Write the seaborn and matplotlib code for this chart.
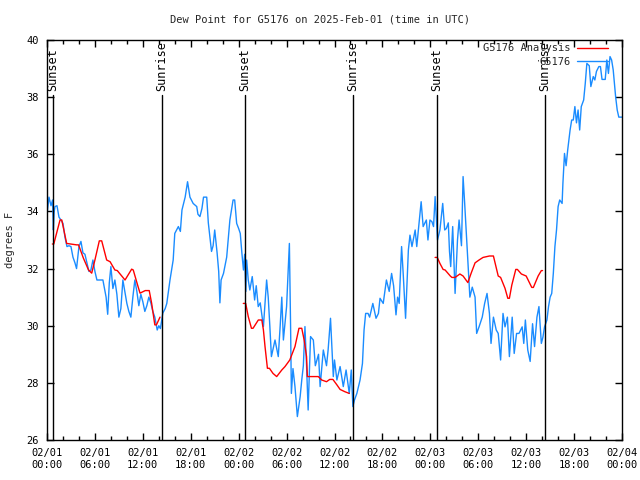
import matplotlib
matplotlib.use("Agg")
import matplotlib.pyplot as plt
import matplotlib.dates as mdates
from matplotlib.lines import Line2D
import numpy as np
import pandas as pd
import seaborn as sns

# hours after 2025-02-01 00:00 UTC
base_time = pd.Timestamp("2025-02-01 00:00")

obs_hours = [
    0.0, 0.25, 0.5, 0.7, 0.8, 0.9, 1.0, 1.25, 1.5, 1.75, 2.0, 2.25, 2.5, 2.75, 3.0, 3.25,
    3.5, 3.7, 4.0, 4.25, 4.5, 4.75, 5.0, 5.25, 5.5, 5.75, 6.0, 6.25, 6.5, 7.0, 7.4, 7.6,
    7.8, 8.0, 8.25, 8.5, 8.75, 9.0, 9.25, 9.5, 9.75, 10.0, 10.25, 10.5, 10.75, 11.0, 11.25,
    11.5, 11.75, 12.0, 12.25, 12.5, 12.75, 13.0, 13.25, 13.5, 13.8, 14.0, 14.2, 14.5, 14.8,
    15.0, 15.4, 15.8, 16.0, 16.45, 16.7, 16.9, 17.3, 17.6, 17.9, 18.3, 18.75, 18.9, 19.15,
    19.4, 19.6, 20.0, 20.2, 20.4, 20.6, 20.8, 21.0, 21.3, 21.5, 21.65, 21.8, 22.1, 22.5,
    22.9, 23.3, 23.5, 23.75, 24.0, 24.2, 24.4, 24.6, 24.75, 24.9, 25.0, 25.2, 25.4, 25.7,
    26.0, 26.2, 26.45, 26.7, 27.1, 27.5, 27.7, 27.9, 28.1, 28.55, 28.96, 29.2, 29.4, 29.6,
    30.0, 30.2, 30.35, 30.5, 30.6, 30.8, 31.05, 31.35, 31.7, 31.9, 32.1, 32.3, 32.5, 32.7,
    33.0, 33.35, 33.6, 34.0, 34.2, 34.6, 35.0, 35.2, 35.5, 35.85, 36.0, 36.3, 36.7, 37.1,
    37.45, 37.85, 38.1, 38.3, 38.5, 38.8, 39.2, 39.5, 39.7, 39.9, 40.2, 40.4, 40.8, 41.2,
    41.5, 41.7, 42.1, 42.5, 42.85, 43.15, 43.4, 43.7, 43.9, 44.1, 44.4, 44.6, 44.9, 45.25,
    45.45, 45.7, 46.1, 46.3, 46.5, 46.85, 47.1, 47.5, 47.7, 47.95, 48.2, 48.4, 48.6, 48.75,
    48.9, 49.2, 49.55, 49.8, 50.0, 50.25, 50.4, 50.55, 50.8, 51.1, 51.4, 51.6, 51.9, 52.1,
    52.3, 52.6, 52.95, 53.25, 53.6, 53.8, 54.1, 54.5, 54.8, 55.1, 55.4, 55.6, 55.9, 56.25,
    56.5, 56.8, 57.1, 57.35, 57.65, 57.9, 58.25, 58.5, 58.8, 59.1, 59.5, 59.7, 59.9, 60.2,
    60.5, 60.8, 61.05, 61.35, 61.6, 61.9, 62.1, 62.3, 62.6, 62.8, 63.0, 63.2, 63.4, 63.6,
    63.8, 64.0, 64.2, 64.5, 64.6, 64.8, 65.0, 65.2, 65.5, 65.7, 65.9, 66.1, 66.3, 66.5,
    66.7, 66.9, 67.2, 67.4, 67.6, 67.9, 68.1, 68.4, 68.6, 68.8, 69.1, 69.3, 69.5, 69.9,
    70.1, 70.3, 70.5, 70.7, 70.9, 71.2, 71.4, 71.6, 72.0,
]
obs_dewpt = [
    33.9, 34.5, 34.2, 34.4, 33.35, 34.0, 34.17, 34.2, 33.8, 33.7, 33.58, 33.1, 32.77, 32.8, 32.77, 32.4,
    32.2, 32.0, 32.77, 32.95, 32.55, 32.5, 32.2, 31.9, 31.95, 32.3, 31.9, 31.6, 31.6, 31.6, 31.0, 30.4,
    31.5, 32.07, 31.3, 31.6, 31.1, 30.3, 30.6, 31.6, 31.2, 30.78, 30.5, 30.3, 31.0, 31.6, 31.2,
    30.7, 31.1, 30.84, 30.5, 30.7, 31.0, 30.8, 30.5, 30.3, 29.85, 30.0, 29.9, 30.44, 30.6,
    30.78, 31.6, 32.3, 33.23, 33.47, 33.3, 34.05, 34.5, 35.04, 34.5, 34.28, 34.17, 33.9, 33.82,
    34.1, 34.5, 34.5, 33.6, 33.1, 32.6, 32.8, 33.35, 32.55, 31.9, 30.8, 31.6, 31.83, 32.4,
    33.7, 34.4, 34.4, 33.58, 33.4, 33.23, 32.55, 31.95, 32.5, 31.2, 32.3, 31.6, 31.25, 31.72,
    30.9, 31.4, 30.67, 30.8, 29.97, 31.6, 31.0, 30.0, 28.92, 29.5, 28.92, 30.0, 31.0, 29.5,
    30.67, 31.95, 32.88, 30.0, 27.63, 28.5, 27.87, 26.82, 27.52, 28.1, 28.6, 29.97, 28.6, 27.05,
    29.62, 29.5, 28.6, 29.0, 27.87, 29.15, 28.6, 29.15, 30.26, 28.22, 28.8, 28.1, 28.57, 27.87,
    28.45, 27.63, 28.45, 27.17, 27.4, 27.63, 28.1, 28.68, 29.85, 30.43, 30.43, 30.3, 30.78, 30.26,
    30.43, 30.96, 30.78, 31.6, 31.2, 31.83, 31.4, 30.38, 31.0, 30.78, 32.77, 31.83, 30.26, 32.65,
    33.17, 32.77, 33.35, 32.77, 33.35, 34.34, 33.47, 33.7, 33.0, 33.7, 33.64, 33.47, 34.52, 33.8,
    33.0, 33.35, 34.28, 33.35, 33.4, 33.6, 32.6, 32.07, 33.47, 31.13, 33.0, 33.7, 32.8, 35.22,
    34.28, 32.77, 31.0, 31.35, 31.0, 29.73, 29.96, 30.3, 30.78, 31.13, 30.43, 29.38, 30.3, 29.85,
    29.73, 28.8, 30.43, 29.96, 30.3, 28.92, 30.3, 29.03, 29.73, 29.73, 29.96, 29.38, 30.2, 29.15,
    28.75, 30.07, 29.27, 30.3, 30.67, 29.38, 29.6, 29.96, 30.2, 30.67, 31.0, 31.13, 31.83, 32.77,
    33.35, 34.17, 34.4, 34.28, 34.98, 36.03, 35.6, 36.15, 36.85, 37.2, 37.2, 37.67, 37.1, 37.55,
    36.85, 37.67, 37.9, 38.48, 39.18, 39.1, 38.37, 38.72, 38.6, 38.9, 39.07, 39.07, 38.62, 38.62,
    39.3, 38.83, 39.42, 39.3, 38.95, 38.02, 37.55, 37.3, 37.3,
]

# analysis series, three nightly segments
anl_hours_1 = [0.67, 0.85, 1.63, 1.85, 2.46, 3.7, 3.95, 4.55, 5.2, 5.6, 6.0, 6.55, 6.85, 7.47,
               7.9, 8.5, 8.8, 9.77, 10.6, 10.8, 11.4, 11.65, 12.3, 12.8, 13.1, 13.5, 13.7, 14.15]
anl_dewpt_1 = [32.86, 32.86, 33.7, 33.7, 32.88, 32.83, 32.83, 32.37, 31.95, 31.84, 32.3, 32.97, 32.97, 32.3,
               32.24, 31.95, 31.93, 31.6, 31.98, 31.95, 31.37, 31.14, 31.23, 31.23, 30.79, 30.03, 30.03, 30.3]
anl_hours_2 = [24.58, 24.88, 25.2, 25.6, 25.8, 26.46, 26.9, 27.1, 27.3, 27.6, 27.85, 28.3, 28.76, 29.4,
               29.8, 30.4, 31.05, 31.55, 31.9, 32.2, 32.5, 32.6, 33.97, 34.4, 35.0, 35.4, 35.8, 36.3,
               36.7, 37.3, 37.85]
anl_dewpt_2 = [30.78, 30.78, 30.32, 29.91, 29.91, 30.2, 30.2, 29.85, 29.27, 28.51, 28.51, 28.33, 28.22, 28.45,
               28.57, 28.8, 29.27, 29.91, 29.91, 29.5, 28.92, 28.22, 28.22, 28.1, 28.04, 28.12, 28.12, 27.93,
               27.77, 27.69, 27.63]
anl_hours_3 = [48.6, 48.87, 49.2, 49.6, 49.85, 50.5, 50.7, 51.1, 51.7, 52.1, 52.7, 53.1, 53.6, 54.1,
               54.6, 55.4, 55.9, 56.5, 56.8, 57.35, 57.7, 57.9, 58.2, 58.7, 58.9, 59.4, 60.0, 60.7,
               60.9, 61.5, 61.9, 62.05]
anl_dewpt_3 = [32.39, 32.39, 32.18, 31.97, 31.95, 31.74, 31.69, 31.69, 31.81, 31.74, 31.51, 31.83, 32.2, 32.3,
               32.39, 32.44, 32.44, 31.74, 31.69, 31.31, 30.96, 30.96, 31.42, 31.97, 31.97, 31.81, 31.74, 31.34,
               31.34, 31.74, 31.93, 31.93]

sun_hours = [0.75, 14.4, 24.78, 38.33, 48.82, 62.33]
sun_labels = ["Sunset", "Sunrise", "Sunset", "Sunrise", "Sunset", "Sunrise"]

station = "G5176"
title = "Dew Point for G5176 on 2025-Feb-01 (time in UTC)"
blue = "#1a8cff"
red = "#ff0000"


def to_time(hours):
    return base_time + pd.to_timedelta(np.asarray(hours), unit="h")


obs = pd.DataFrame({"time": to_time(obs_hours), "dewpt": obs_dewpt})
anl = pd.concat([
    pd.DataFrame({"time": to_time(h), "dewpt": v, "seg": i})
    for i, (h, v) in enumerate([(anl_hours_1, anl_dewpt_1),
                                (anl_hours_2, anl_dewpt_2),
                                (anl_hours_3, anl_dewpt_3)])
])

sns.set_style("ticks")
plt.rcParams["font.family"] = ["DejaVu Sans Mono"]
plt.rcParams["font.size"] = 7

fig = plt.figure(figsize=(6.4, 4.8), dpi=100)
ax = fig.add_axes([47 / 640, 40 / 480, 575 / 640, 400 / 480])

sns.lineplot(data=obs, x="time", y="dewpt", color=blue, linewidth=1.0, ax=ax)
sns.lineplot(data=anl, x="time", y="dewpt", units="seg", estimator=None,
             color=red, linewidth=1.0, ax=ax)

# sun event markers: label sits above the line, reading bottom to top
for h, lab in zip(sun_hours, sun_labels):
    t = to_time([h])[0]
    ax.axvline(t, ymin=0, ymax=0.8625, color="black", linewidth=1.0)
    ax.text(t, 38.2, lab, rotation=90, ha="center", va="bottom", fontsize=8.5, color="black")

ax.set_xlim(base_time, to_time([72])[0])
ax.set_ylim(26, 40)
ax.set_yticks(np.arange(26, 41, 2))
ax.xaxis.set_major_locator(mdates.HourLocator(byhour=[0, 6, 12, 18]))
ax.xaxis.set_minor_locator(mdates.HourLocator(interval=2))
ax.xaxis.set_major_formatter(mdates.DateFormatter("%m/%d\n%H:%M"))
ax.tick_params(axis="both", which="both", direction="in", top=True, right=True,
               labelsize=7.5, colors="black", width=1.0)
ax.tick_params(axis="both", which="major", length=5, pad=6)
ax.tick_params(axis="both", which="minor", length=3)
ax.set_xlabel("")
ax.set_ylabel("degrees F", fontsize=7.5, labelpad=8)
for s in ax.spines.values():
    s.set_color("black")
    s.set_linewidth(1.0)

fig.suptitle(title, fontsize=7.5, y=0.97)

handles = [Line2D([], [], color=red, linewidth=1.0), Line2D([], [], color=blue, linewidth=1.0)]
ax.legend(handles, [f"{station} Analysis", station], loc="upper right",
          bbox_to_anchor=(0.985, 1.005), frameon=False,
          markerfirst=False, fontsize=7.5, handlelength=3.0, handletextpad=0.6,
          labelspacing=0.35, borderaxespad=0.1)

fig.savefig("out.png", dpi=100)
